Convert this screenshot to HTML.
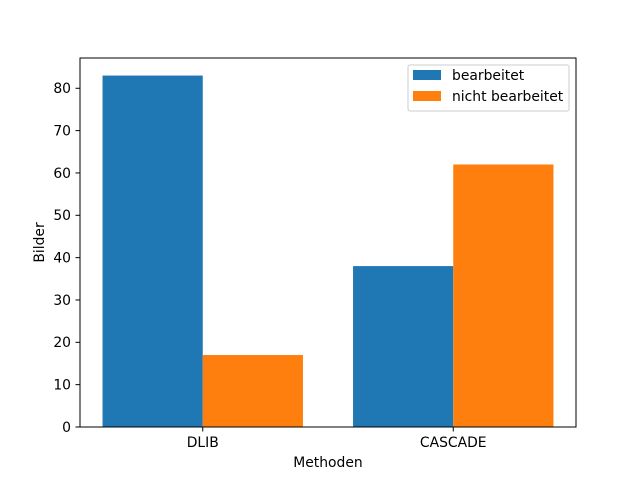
<!DOCTYPE html>
<html><head><meta charset="utf-8"><style>
body{margin:0;background:#fff;}
svg{display:block;font-family:"DejaVu Sans","Liberation Sans",sans-serif;}
</style></head><body>
<svg id="chart" width="640" height="480">
<rect width="640" height="480" fill="#fff"/>
<g id="bars"></g>
<g id="axes"></g>
</svg>
<script>
const categories = ["DLIB", "CASCADE"];
const seriesNames = ["bearbeitet", "nicht bearbeitet"];
const bearbeitet = [83, 38];
const nichtBearbeitet = [17, 62];
const yTicks = [0, 10, 20, 30, 40, 50, 60, 70, 80];

const L=80,R=576,T=58,B=427;
const xMin=-0.49,xMax=1.49,yMin=0,yMax=87.15;
const FS=13.9;
const xs=v=>L+(v-xMin)/(xMax-xMin)*(R-L);
const ys=v=>B-(v-yMin)/(yMax-yMin)*(B-T);
const NS="http://www.w3.org/2000/svg";
function mk(tag,attrs,parent,text){const e=document.createElementNS(NS,tag);for(const k in attrs)e.setAttribute(k,attrs[k]);if(text!==undefined)e.textContent=text;parent.appendChild(e);return e;}
const bars=document.getElementById('bars'),axes=document.getElementById('axes');
const colors=["#1f77b4","#ff7f0e"];
const series=[bearbeitet,nichtBearbeitet];
series.forEach((vals,s)=>{vals.forEach((v,i)=>{
  const x0=xs(i-0.4+s*0.4),x1=xs(i+s*0.4);
  const r=mk('rect',{x:x0,y:ys(v),width:x1-x0,height:ys(0)-ys(v),fill:colors[s]},bars);
  
  
});});
const frame=mk('rect',{x:L,y:T,width:R-L,height:B-T,fill:'none',stroke:'#000','stroke-width':1},axes);


yTicks.forEach(t=>{
  const y=ys(t);
  mk('line',{x1:L-4.5,x2:L,y1:y,y2:y,stroke:'#000','stroke-width':1},axes);
  const tl=mk('text',{x:L-9,y:y+4.8,'text-anchor':'end','font-size':FS,fill:'#000'},axes,String(t));
  
  
});
categories.forEach((c,i)=>{
  const x=xs(i);
  mk('line',{x1:x,x2:x,y1:B,y2:B+4.5,stroke:'#000','stroke-width':1},axes);
  const tl=mk('text',{x:x,y:B+20,'text-anchor':'middle','font-size':FS,fill:'#000'},axes,c);
  
  
});
const xt=mk('text',{x:(L+R)/2,y:467,'text-anchor':'middle','font-size':FS,fill:'#000'},axes,'Methoden');


const yt=mk('text',{x:44,y:(T+B)/2,'text-anchor':'middle','font-size':FS,fill:'#000',transform:'rotate(-90 44 '+((T+B)/2)+')'},axes,'Bilder');


const lg=mk('g',{},axes);


mk('rect',{x:408,y:65,width:161,height:46,rx:2,fill:'#fff','fill-opacity':0.8,stroke:'#ccc','stroke-width':1},lg);
seriesNames.forEach((n,s)=>{
  const y=70+s*21;
  mk('rect',{x:413,y:y,width:28,height:10,fill:colors[s]},lg);
  const t=mk('text',{x:452,y:y+10,'font-size':FS,fill:'#000'},lg,n);
  
  
});
</script>
</body></html>
